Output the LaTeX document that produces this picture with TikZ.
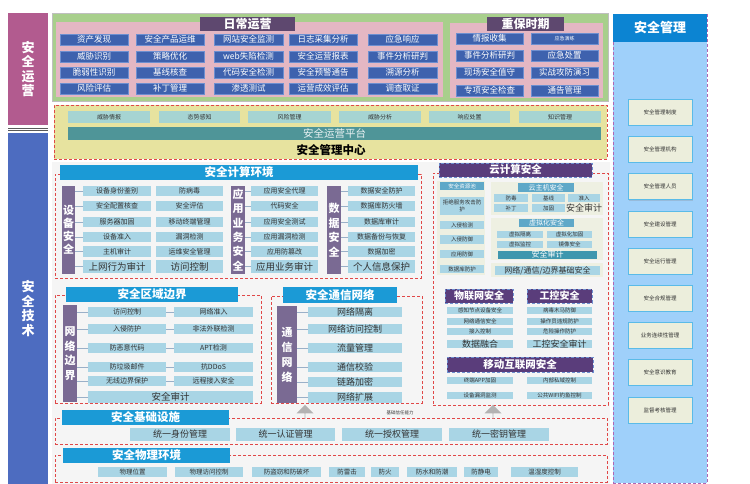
\documentclass[tikz,border=0pt]{standalone}
\usepackage{fontspec}
\setmainfont{Noto Sans CJK SC}
\usetikzlibrary{shapes.arrows,shadows}
\definecolor{opPink}{HTML}{B25B8F}
\definecolor{techBlue}{HTML}{4D6CC0}
\definecolor{grnBg}{HTML}{A8CF8C}
\definecolor{pinkBg}{HTML}{E4B7C3}
\definecolor{hdrPurple}{HTML}{5E486F}
\definecolor{opBlue}{HTML}{3E62AE}
\definecolor{opBlueB}{HTML}{6D8FD0}
\definecolor{yelBg}{HTML}{E7E39F}
\definecolor{tealCell}{HTML}{A6D4D2}
\definecolor{tealBar}{HTML}{4F9598}
\definecolor{secBlue}{HTML}{1B9AD6}
\definecolor{barPurple}{HTML}{7A6A93}
\definecolor{ltCell}{HTML}{A9D5E5}
\definecolor{cloudPurple}{HTML}{5A3D7B}
\definecolor{panelBg}{HTML}{EEF0E2}
\definecolor{poolBlue}{HTML}{5FA8C8}
\definecolor{auditTeal}{HTML}{3F97AE}
\definecolor{mgmtBg}{HTML}{9FD0FA}
\definecolor{mgmtHdr}{HTML}{0C84D2}
\definecolor{mgmtItem}{HTML}{ECEEDC}
\definecolor{mgmtItemB}{HTML}{5ABBE8}
\definecolor{redDash}{HTML}{E04848}
\definecolor{txtDark}{HTML}{333333}
\definecolor{techBg}{HTML}{F5F5F5}
\definecolor{tickCol}{HTML}{9AB0C8}
\newcommand{\myfs}[1]{\fontsize{#1}{#1}\selectfont}
\newcommand{\mybx}[7]{\node[#6, minimum width={(#4-#2)*1pt}, minimum height={(#5-#3)*1pt}] (#1) at ({(#2+#4)/2},{(#3+#5)/2}) {#7};}
\tikzset{
  box/.style={inner sep=0pt, outer sep=0pt},
  bgfill/.style={box, fill=#1},
  opcell/.style={box, fill=opBlue, draw=opBlueB, line width=0.4pt, text=white, font=\myfs{8.5}},
  phdr/.style={box, fill=hdrPurple, text=white, font=\bfseries\myfs{12}},
  redbox/.style={box, draw=redDash, densely dashed, line width=0.6pt},
  tcell/.style={box, fill=tealCell, text=txtDark, font=\myfs{6}},
  shdr/.style={box, fill=secBlue, text=white, font=\bfseries\myfs{11.5}},
  vbar/.style={box, fill=barPurple, text=white, align=center},
  lcell/.style={box, fill=ltCell, text=txtDark, font=\myfs{7}},
  bigcell/.style={box, fill=ltCell, text=txtDark, font=\myfs{9.5}},
  chdr/.style={box, fill=cloudPurple, draw=opBlueB, densely dashed, line width=0.5pt, text=white, font=\bfseries\myfs{10.5}},
  panel/.style={box, fill=panelBg},
  pcell/.style={box, fill=ltCell, text=txtDark, font=\myfs{5.5}},
  subhdr/.style={box, fill=poolBlue, text=white, font=\myfs{6.5}},
  mitem/.style={box, fill=mgmtItem, draw=mgmtItemB, line width=0.6pt, text=txtDark, font=\myfs{5.5},
     drop shadow={opacity=0.25, shadow xshift=1pt, shadow yshift=-1pt}},
  tickln/.style={draw=tickCol, line width=0.6pt},
  uparr/.style={single arrow, shape border rotate=90, fill=gray!60, draw=none, minimum height=14pt,
     minimum width=17pt, single arrow head extend=4pt, inner sep=0pt},
}
\begin{document}
\begin{tikzpicture}[x=1pt,y=-1pt]
\useasboundingbox (0,0) rectangle (750,484);
\fill[white] (0,0) rectangle (750,484);
% ---------- left labels
\mybx{lblOps}{8}{13}{48}{125}{bgfill=opPink, text=white, align=center, font=\bfseries\fontsize{13}{14.5}\selectfont}{安\\全\\运\\营}
\draw[gray!70!black, line width=0.6pt] (8,128) -- (48,128);
\draw[gray!70!black, line width=0.6pt] (8,130.5) -- (48,130.5);
\mybx{lblTech}{8}{133}{48}{484}{bgfill=techBlue, text=white, align=center, font=\bfseries\fontsize{13}{14.5}\selectfont}{安\\全\\技\\术}
% ---------- operations
\mybx{grn}{52}{13}{608}{101}{bgfill=grnBg, draw=gray!50}{}
\mybx{pinkA}{56}{22}{443}{97}{bgfill=pinkBg}{}
\mybx{pinkB}{450}{23}{603}{98}{bgfill=pinkBg}{}
\mybx{hDaily}{200}{17}{295}{31}{phdr}{日常运营}
\mybx{hKey}{487}{17}{564}{31}{phdr}{重保时期}
% col 1
\mybx{d11}{60}{34}{128}{45}{opcell}{资产发现}
\mybx{d12}{60}{51}{128}{62}{opcell}{威胁识别}
\mybx{d13}{60}{67}{128}{78}{opcell}{脆弱性识别}
\mybx{d14}{60}{83}{128}{94}{opcell}{风险评估}
\mybx{d21}{136}{34}{204}{45}{opcell}{安全产品运维}
\mybx{d22}{136}{51}{204}{62}{opcell}{策略优化}
\mybx{d23}{136}{67}{204}{78}{opcell}{基线核查}
\mybx{d24}{136}{83}{204}{94}{opcell}{补丁管理}
\mybx{d31}{214}{34}{283}{45}{opcell}{网站安全监测}
\mybx{d32}{214}{51}{283}{62}{opcell}{web失陷检测}
\mybx{d33}{214}{67}{283}{78}{opcell}{代码安全检测}
\mybx{d34}{214}{83}{283}{94}{opcell}{渗透测试}
\mybx{d41}{289}{34}{357}{45}{opcell}{日志采集分析}
\mybx{d42}{289}{51}{357}{62}{opcell}{安全运营报表}
\mybx{d43}{289}{67}{357}{78}{opcell}{安全预警通告}
\mybx{d44}{289}{83}{357}{94}{opcell}{运营成效评估}
\mybx{d51}{368}{34}{437}{45}{opcell}{应急响应}
\mybx{d52}{368}{51}{437}{62}{opcell}{事件分析研判}
\mybx{d53}{368}{67}{437}{78}{opcell}{溯源分析}
\mybx{d54}{368}{83}{437}{94}{opcell}{调查取证}
\mybx{k11}{456}{33}{523}{44}{opcell}{情报收集}
\mybx{k12}{456}{50}{523}{61}{opcell}{事件分析研判}
\mybx{k13}{456}{67}{523}{78}{opcell}{现场安全值守}
\mybx{k14}{456}{85}{523}{96}{opcell}{专项安全检查}
\mybx{k21}{531}{33}{598}{44}{opcell, font=\myfs{5}}{应急演练}
\mybx{k22}{531}{50}{598}{61}{opcell}{应急处置}
\mybx{k23}{531}{67}{598}{78}{opcell}{实战攻防演习}
\mybx{k24}{531}{85}{598}{96}{opcell}{通告管理}
% ---------- management center
\mybx{smc}{54}{105}{607}{159}{bgfill=yelBg, redbox}{}
\mybx{m1}{68}{111}{150}{123}{tcell}{威胁情报}
\mybx{m2}{159}{111}{240}{123}{tcell}{态势感知}
\mybx{m3}{248}{111}{331}{123}{tcell}{风险管理}
\mybx{m4}{339}{111}{421}{123}{tcell}{威胁分析}
\mybx{m5}{429}{111}{510}{123}{tcell}{响应处置}
\mybx{m6}{519}{111}{601}{123}{tcell}{知识管理}
\mybx{platf}{68}{127}{601}{140}{bgfill=tealBar, text=white!88!tealBar, font=\myfs{10.5}}{安全运营平台}
\node[box, font=\bfseries\myfs{11.5}, text=black] (smcT) at (331,150) {安全管理中心};
% ---------- tech background
\mybx{techbg}{52}{162}{610}{484}{bgfill=techBg}{}
% ---------- computing environment
\mybx{ceBox}{55}{174}{421}{278}{redbox}{}
\mybx{ceHdr}{60}{165}{418}{180}{shdr}{安全计算环境}
\mybx{bDev}{62}{186}{75}{274}{vbar, font=\bfseries\fontsize{11}{13}\selectfont}{设\\备\\安\\全}
\mybx{bApp}{231}{186}{245}{274}{vbar, font=\bfseries\fontsize{11}{14.3}\selectfont}{应\\用\\业\\务\\安\\全}
\mybx{bDat}{327}{186}{341}{274}{vbar, font=\bfseries\fontsize{11}{14.5}\selectfont}{数\\据\\安\\全}
\mybx{ca1}{83}{186}{151}{196}{lcell}{设备身份鉴别}
\mybx{ca2}{83}{201}{151}{211}{lcell}{安全配置核查}
\mybx{ca3}{83}{217}{151}{227}{lcell}{服务器加固}
\mybx{ca4}{83}{232}{151}{242}{lcell}{设备准入}
\mybx{ca5}{83}{246}{151}{257}{lcell}{主机审计}
\mybx{ca6}{83}{260}{151}{273}{bigcell}{上网行为审计}
\mybx{cb1}{156}{186}{223}{196}{lcell}{防病毒}
\mybx{cb2}{156}{201}{223}{211}{lcell}{安全评估}
\mybx{cb3}{156}{217}{223}{227}{lcell}{移动终端管理}
\mybx{cb4}{156}{232}{223}{242}{lcell}{漏洞检测}
\mybx{cb5}{156}{246}{223}{257}{lcell}{运维安全管理}
\mybx{cb6}{156}{260}{223}{273}{bigcell}{访问控制}
\mybx{cc1}{251}{186}{318}{196}{lcell}{应用安全代理}
\mybx{cc2}{251}{201}{318}{211}{lcell}{代码安全}
\mybx{cc3}{251}{217}{318}{227}{lcell}{应用安全测试}
\mybx{cc4}{251}{232}{318}{242}{lcell}{应用漏洞检测}
\mybx{cc5}{251}{246}{318}{257}{lcell}{应用防篡改}
\mybx{cc6}{251}{260}{318}{273}{bigcell}{应用业务审计}
\mybx{cd1}{348}{186}{415}{196}{lcell}{数据安全防护}
\mybx{cd2}{348}{201}{415}{211}{lcell}{数据库防火墙}
\mybx{cd3}{348}{217}{415}{227}{lcell}{数据库审计}
\mybx{cd4}{348}{232}{415}{242}{lcell}{数据备份与恢复}
\mybx{cd5}{348}{246}{415}{257}{lcell}{数据加密}
\mybx{cd6}{348}{260}{415}{273}{bigcell}{个人信息保护}
\foreach \i in {1,...,6}{
  \draw[tickln] (ca\i.west) -- (ca\i.west -| bDev.east);
  \draw[tickln] (cc\i.west) -- (cc\i.west -| bApp.east);
  \draw[tickln] (cd\i.west) -- (cd\i.west -| bDat.east);
}
% ---------- cloud security
\mybx{clBox}{433}{173}{608}{405}{redbox}{}
\mybx{clHdr}{439}{163}{592}{177}{chdr}{云计算安全}
\mybx{pool}{437}{181}{485}{275}{panel}{}
\mybx{poolH}{440}{182}{484}{190}{subhdr, font=\myfs{5.5}}{安全资源池}
\mybx{pl1}{440}{197}{484}{215}{pcell, align=center, font=\fontsize{5.5}{7}\selectfont}{拒绝服务攻击防\\护}
\mybx{pl2}{440}{221}{484}{229}{pcell}{入侵检测}
\mybx{pl3}{440}{235}{484}{244}{pcell}{入侵防御}
\mybx{pl4}{440}{250}{484}{258}{pcell}{应用防御}
\mybx{pl5}{440}{265}{484}{273}{pcell}{数据库防护}
\mybx{hostP}{491}{182}{603}{215}{panel}{}
\mybx{hostH}{518}{183}{574}{192}{subhdr, font=\myfs{7}}{云主机安全}
\mybx{h1}{494}{194}{528}{202}{pcell}{防毒}
\mybx{h2}{532}{194}{565}{202}{pcell}{基线}
\mybx{h3}{568}{194}{600}{202}{pcell}{准入}
\mybx{h4}{494}{204}{528}{212}{pcell}{补丁}
\mybx{h5}{532}{204}{565}{212}{pcell}{加固}
\mybx{h6}{568}{204}{600}{212}{box, text=txtDark, font=\myfs{9}}{安全审计}
\mybx{virP}{491}{218}{603}{260}{panel}{}
\mybx{virH}{519}{219}{574}{227}{subhdr, font=\myfs{7}}{虚拟化安全}
\mybx{v1}{497}{231}{543}{238}{pcell}{虚拟隔离}
\mybx{v2}{547}{231}{592}{238}{pcell}{虚拟化加固}
\mybx{v3}{497}{241}{543}{248}{pcell}{虚拟监控}
\mybx{v4}{547}{241}{592}{248}{pcell}{镜像安全}
\mybx{vAud}{498}{251}{597}{258.5}{bgfill=auditTeal, text=white, font=\myfs{8}}{安全审计}
\mybx{netP}{491}{263}{603}{277}{panel}{}
\mybx{netC}{495}{266}{600}{275}{pcell, font=\myfs{8}}{网络/通信/边界基础安全}
% IoT / ICS / mobile
\mybx{iotH}{445}{289}{513}{303}{chdr, font=\bfseries\myfs{10}}{物联网安全}
\mybx{icsH}{527}{289}{592}{303}{chdr, font=\bfseries\myfs{10}}{工控安全}
\mybx{i1}{447}{307}{513}{314}{pcell}{感知节点设备安全}
\mybx{i2}{447}{318}{513}{325}{pcell}{网络通信安全}
\mybx{i3}{447}{328}{513}{335}{pcell}{接入控制}
\mybx{i4}{447}{340}{513}{348}{pcell, font=\myfs{9}}{数据融合}
\mybx{g1}{527}{307}{592}{314}{pcell}{病毒木马防御}
\mybx{g2}{527}{318}{592}{325}{pcell}{操作员违规防护}
\mybx{g3}{527}{328}{592}{335}{pcell}{危险操作防护}
\mybx{g4}{527}{340}{592}{348}{pcell, font=\myfs{9}}{工控安全审计}
\mybx{mobH}{447}{357}{593}{372}{chdr, font=\bfseries\myfs{10.5}}{移动互联网安全}
\mybx{mb1}{447}{377}{513}{384}{pcell}{终端APP加固}
\mybx{mb2}{527}{377}{592}{384}{pcell}{内部私域控制}
\mybx{mb3}{447}{392}{513}{399}{pcell}{设备漏洞监测}
\mybx{mb4}{527}{392}{592}{399}{pcell}{公共WIFI钓鱼控制}
% ---------- region boundary
\mybx{rbBox}{55}{295}{261}{403}{redbox}{}
\mybx{rbHdr}{66}{287}{238}{302}{shdr}{安全区域边界}
\mybx{bNet}{63}{305}{77}{402}{vbar, font=\bfseries\fontsize{11}{14.5}\selectfont}{网\\络\\边\\界}
\mybx{ra1}{88}{307}{166}{317}{lcell}{访问控制}
\mybx{ra2}{88}{324}{166}{334}{lcell}{入侵防护}
\mybx{ra3}{88}{343}{166}{353}{lcell}{防恶意代码}
\mybx{ra4}{88}{362}{166}{372}{lcell}{防垃圾邮件}
\mybx{ra5}{88}{376}{166}{386}{lcell}{无线边界保护}
\mybx{rb1}{174}{307}{253}{317}{lcell}{网络准入}
\mybx{rb2}{174}{324}{253}{334}{lcell}{非法外联检测}
\mybx{rb3}{174}{343}{253}{353}{lcell}{APT检测}
\mybx{rb4}{174}{362}{253}{372}{lcell}{抗DDoS}
\mybx{rb5}{174}{376}{253}{386}{lcell}{远程接入安全}
\mybx{ra6}{88}{391}{253}{403}{bigcell}{安全审计}
\foreach \i in {1,...,6}{
  \draw[tickln] (ra\i.west) -- (ra\i.west -| bNet.east);
}
\foreach \i in {1,...,5}{
  \draw[tickln] (ra\i.east) -- (rb\i.west);
}
% ---------- communication network
\mybx{cnBox}{271}{296}{422}{403}{redbox}{}
\mybx{cnHdr}{283}{287}{397}{303}{shdr}{安全通信网络}
\mybx{bCom}{277}{306}{297}{403}{vbar, font=\bfseries\fontsize{11}{15}\selectfont}{通\\信\\网\\络}
\mybx{n1}{308}{307}{402}{317}{lcell, font=\myfs{9}}{网络隔离}
\mybx{n2}{308}{324}{402}{334}{lcell, font=\myfs{9}}{网络访问控制}
\mybx{n3}{308}{343}{402}{353}{lcell, font=\myfs{9}}{流量管理}
\mybx{n4}{308}{362}{402}{372}{lcell, font=\myfs{9}}{通信校验}
\mybx{n5}{308}{377}{402}{387}{lcell, font=\myfs{9}}{链路加密}
\mybx{n6}{308}{392}{402}{403}{lcell, font=\myfs{9}}{网络扩展}
\foreach \i in {1,...,6}{
  \draw[tickln] (n\i.west) -- (n\i.west -| bCom.east);
}
% ---------- infrastructure
\mybx{infBox}{55}{418}{607}{444}{redbox}{}
\mybx{infHdr}{62}{410}{229}{425}{shdr}{安全基础设施}
\mybx{u1}{130}{428}{230}{441}{lcell, font=\myfs{9}}{统一身份管理}
\mybx{u2}{236}{428}{335}{441}{lcell, font=\myfs{9}}{统一认证管理}
\mybx{u3}{342}{428}{442}{441}{lcell, font=\myfs{9}}{统一授权管理}
\mybx{u4}{449}{428}{549}{441}{lcell, font=\myfs{9}}{统一密钥管理}
\node[uparr] (arrA) at (305,412) {};
\node[uparr] (arrB) at (493,412) {};
\node[box, font=\myfs{4.5}, text=txtDark] (trustT) at (400,413) {基础信任能力};
% ---------- physical
\mybx{phBox}{55}{455}{607}{482}{redbox}{}
\mybx{phHdr}{63}{448}{230}{463}{shdr}{安全物理环境}
\mybx{p1}{98}{467}{167}{477}{lcell, font=\myfs{6.5}}{物理位置}
\mybx{p2}{175}{467}{243}{477}{lcell, font=\myfs{6.5}}{物理访问控制}
\mybx{p3}{252}{467}{321}{477}{lcell, font=\myfs{6.5}}{防盗窃和防破坏}
\mybx{p4}{329}{467}{365}{477}{lcell, font=\myfs{6.5}}{防雷击}
\mybx{p5}{371}{467}{399}{477}{lcell, font=\myfs{6.5}}{防火}
\mybx{p6}{407}{467}{457}{477}{lcell, font=\myfs{6.5}}{防水和防潮}
\mybx{p7}{464}{467}{498}{477}{lcell, font=\myfs{6.5}}{防静电}
\mybx{p8}{511}{467}{578}{477}{lcell, font=\myfs{6.5}}{温湿度控制}
% ---------- management column
\mybx{mgBox}{613}{14}{707}{483}{bgfill=mgmtBg, draw=violet!60, densely dashed, line width=0.5pt}{}
\mybx{mgHdr}{613}{14}{707}{42}{bgfill=mgmtHdr, text=white, font=\bfseries\myfs{13}}{安全管理}
\foreach \n/\yc/\t in {1/112/安全管理制度, 2/149.5/安全管理机构, 3/186.5/安全管理人员, 4/224/安全建设管理,
  5/261/安全运行管理, 6/298/安全合规管理, 7/335/业务连续性管理, 8/372/安全意识教育, 9/410/监督考核管理}{
  \node[mitem, minimum width=64pt, minimum height=26pt] (mg\n) at (660,\yc) {\t};
}
\end{tikzpicture}
\end{document}
